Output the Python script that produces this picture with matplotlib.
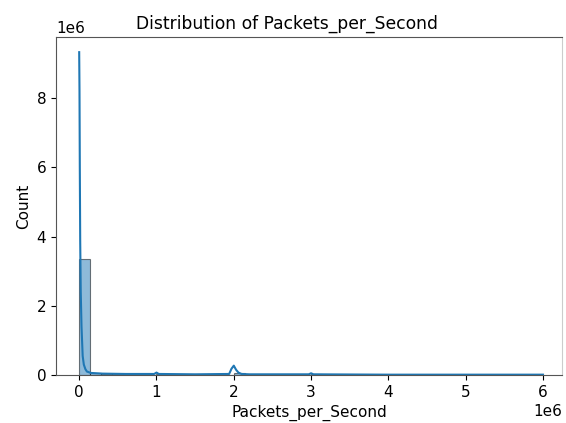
import numpy as np
import matplotlib
matplotlib.use("Agg")
import matplotlib.pyplot as plt

# 直方图：0 ~ 6e6 之间 42 个等宽分箱的计数
x_min, x_max, n_bins = 0.0, 6.0e6, 42
bin_counts = [
    3.35e6, 6.0e4, 3.0e4, 2.0e4, 1.5e4, 1.2e4, 1.0e4, 3.0e4,
    1.0e4, 8.0e3, 8.0e3, 7.0e3, 6.0e3, 6.0e3, 7.0e4, 1.0e4,
    5.0e3, 5.0e3, 4.0e3, 4.0e3, 4.0e3, 1.5e4, 3.0e3, 3.0e3,
    3.0e3, 3.0e3, 3.0e3, 3.0e3, 3.0e3, 2.0e3, 2.0e3, 2.0e3,
    2.0e3, 2.0e3, 2.0e3, 2.0e3, 2.0e3, 2.0e3, 2.0e3, 2.0e3,
    2.0e3, 2.0e3,
]

# KDE 曲线（按图读取，单位 1e6）
kde_x = [0.0, 0.004, 0.008, 0.013, 0.02, 0.03, 0.045, 0.06, 0.08, 0.1, 0.15,
         0.3, 0.6, 0.97, 1.0, 1.03, 1.5, 1.94, 1.97, 2.0, 2.03, 2.06, 2.1, 2.2,
         2.97, 3.0, 3.03, 4.0, 5.0, 6.0]
kde_y = [9.33, 8.2, 6.0, 3.9, 2.4, 1.4, 0.55, 0.3, 0.17, 0.1, 0.06,
         0.04, 0.03, 0.03, 0.07, 0.03, 0.02, 0.03, 0.18, 0.27, 0.15, 0.07, 0.03, 0.02,
         0.02, 0.05, 0.02, 0.01, 0.01, 0.01]

edges = np.linspace(x_min, x_max, n_bins + 1)

plt.rcParams["font.size"] = 11

fig = plt.figure(figsize=(5.66, 4.23), dpi=100)
ax = fig.add_axes([56 / 566, 48 / 423, 506 / 566, 338 / 423])

# 仿 seaborn histplot 的柱子样式
ax.bar(edges[:-1], bin_counts, width=np.diff(edges), align="edge",
       facecolor="C0", edgecolor="black", linewidth=0.8, alpha=0.5)
ax.plot(np.array(kde_x) * 1e6, np.array(kde_y) * 1e6, color="C0", lw=1.5)

ax.set_xlim(-0.3e6, -0.3e6 + 506 / 77.3 * 1e6)
ax.set_ylim(0, 9.33e6 * 1.047)
for s in ax.spines.values():
    s.set_color("#555555")
ax.spines["right"].set_color("#cccccc")
ax.set_title("Distribution of Packets_per_Second", fontsize=12.3,
             x=(287 - 56) / 506)
ax.set_xlabel("Packets_per_Second")
ax.set_ylabel("Count")

fig.savefig("out.png", dpi=100)
